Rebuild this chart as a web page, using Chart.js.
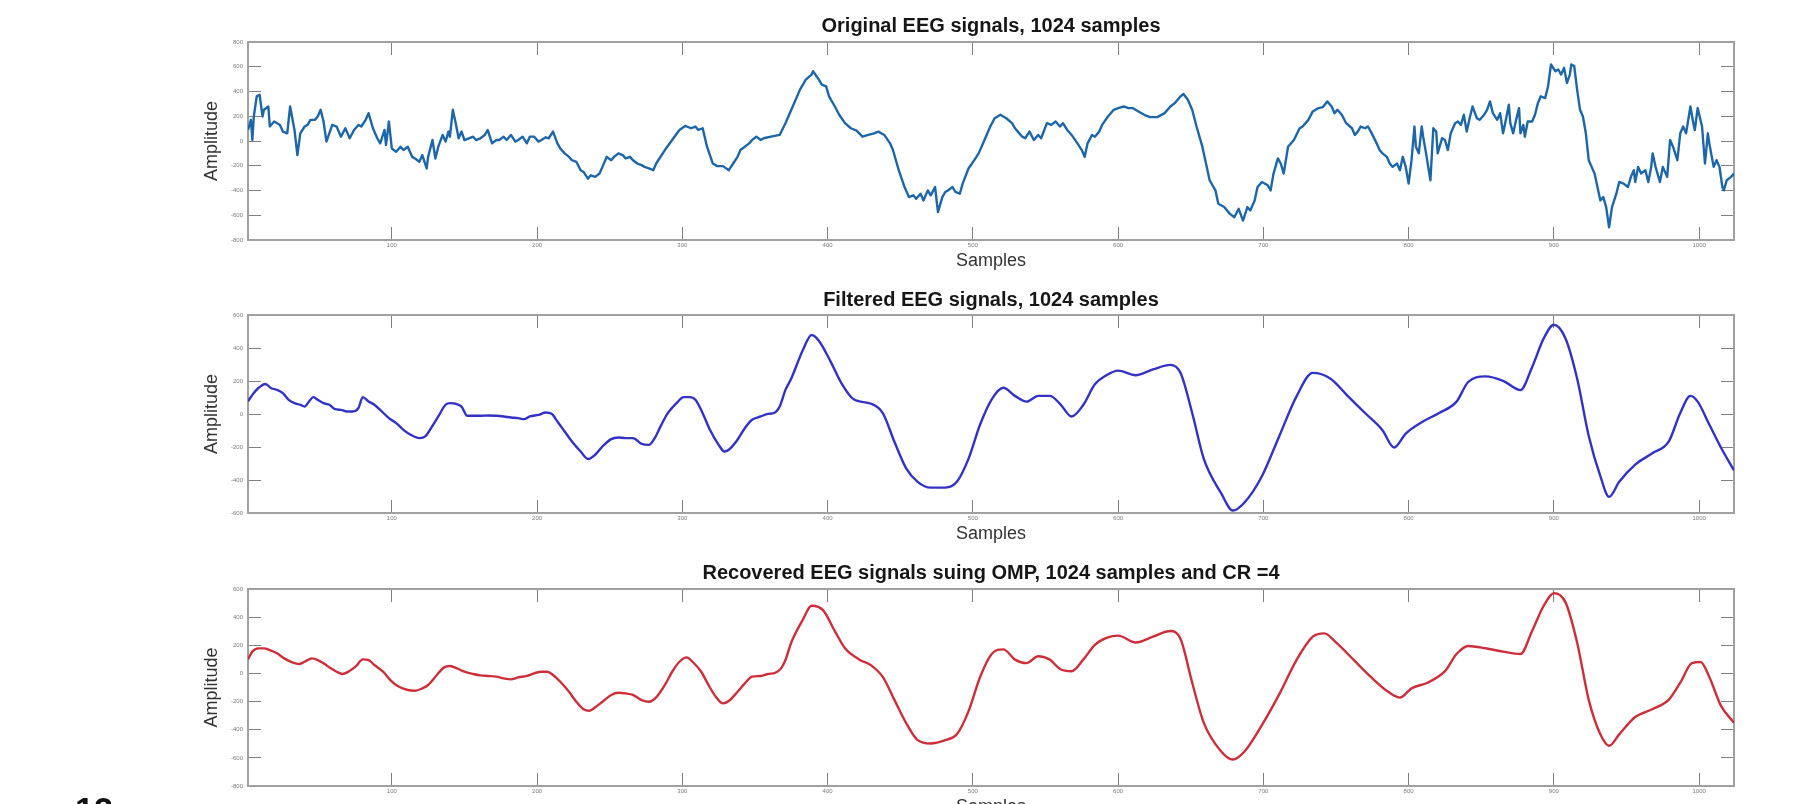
<!DOCTYPE html>
<html>
<head>
<meta charset="utf-8">
<title>EEG signals</title>
<script src="https://cdn.jsdelivr.net/npm/chart.js@4.4.1/dist/chart.umd.min.js"></script>
<style>
  html, body { margin: 0; padding: 0; background: #ffffff; width: 1799px; height: 804px; overflow: hidden; }
  canvas { position: absolute; left: 0; top: 0; }
  #figno { position: absolute; left: 75px; top: 792px; font: bold 34px/34px "Liberation Sans", Arial, sans-serif; color: #111; }
</style>
</head>
<body>
<canvas id="original" width="1799" height="830"></canvas>
<canvas id="filtered" width="1799" height="830"></canvas>
<canvas id="recovered" width="1799" height="830"></canvas>
<div id="figno">12</div>
<script>
// ---- Raw EEG trace (sample index, amplitude) ----
const originalSamples = [
  1,3,4,5,7,9,11,12,15,16, 19,21,23,25,28,30,33,35,37,40, 42,44,47,49,51,53,55,59,62,65,
  68,71,74,77,79,82,84,87,90,92, 95,96,98,100,103,106,108,111,114,116, 119,121,124,125,128,130,132,135,137,139,
  140,142,144,146,148,150,153,156,158,161, 164,166,169,172,174,177,179,182,185,187, 190,193,195,198,201,203,206,208,211,214,
  216,219,222,224,227,230,232,235,237,240, 243,245,248,251,253,256,259,261,264,266, 269,272,274,277,280,282,288,293,298,302,
  306,309,311,314,317,321,324,328,332,335, 338,340,343,346,348,351,354,356,361,367, 371,376,381,385,389,390,394,396,399,401,
  405,408,412,416,420,424,428,432,435,439, 443,445,449,453,456,459,461,464,466,469, 471,474,476,479,481,483,486,488,491,493,
  497,501,504,508,512,515,519,523,527,529, 531,534,536,539,542,545,547,551,554,557, 560,562,565,568,572,575,577,579,582,584,
  587,589,593,597,600,604,607,610,614,618, 622,627,632,636,639,641,643,645,648,651, 654,658,661,663,667,669,673,677,680,683,
  686,689,691,694,696,699,703,705,707,710, 712,714,717,721,725,727,731,734,738,741, 744,747,749,751,754,757,761,763,765,767,
  770,772,774,778,780,782,785,787,789,792, 794,796,798,800,802,804,805,807,809,810, 812,815,817,819,820,823,825,827,829,832,
  834,836,838,840,842,844,847,849,852,854, 856,858,861,863,865,866,869,870,872,874, 876,877,879,880,882,885,887,889,891,894,
  896,898,901,903,905,907,909,911,912,914, 916,918,920,922,924,926,928,930,932,934, 936,938,940,943,945,948,951,953,955,956,
  958,960,963,965,967,968,970,973,975,978, 980,982,985,987,989,991,994,996,997,999, 1002,1004,1006,1007,1010,1012,1014,1016,1017,1019,
  1022,1024
];
const originalAmplitude = [
  89,171,8,198,361,374,198,252,279,117, 157,144,130,76,62,279,89,-114,62,117, 130,171,171,198,252,157,-5,130,117,35,
  103,22,89,130,117,171,225,103,22,-19, 89,-33,157,-60,-87,-46,-73,-46,-128,-141, -168,-114,-222,-128,8,-141,-46,49,-5,76,
  35,252,144,22,76,8,22,35,8,22, 49,89,-19,8,8,35,8,49,-5,8, 35,-19,35,35,-5,8,30,22,76,-19,
  -60,-100,-128,-155,-168,-236,-250,-304,-277,-290, -263,-209,-128,-155,-128,-100,-114,-141,-128,-155, -182,-195,-209,-222,-236,-182,-73,8,89,122,
  103,117,89,103,-46,-182,-203,-203,-236,-182, -128,-73,-46,-19,8,35,8,22,35,49, 144,279,415,496,537,564,496,456,442,361,
  279,212,144,103,84,35,49,62,76,49, -19,-73,-236,-372,-453,-439,-467,-426,-480,-399, -439,-372,-575,-453,-412,-399,-372,-412,-426,-344,
  -222,-155,-100,8,117,184,212,184,144,103, 76,35,22,76,8,49,22,144,130,157, 117,144,89,49,-19,-73,-128,-19,49,35,
  76,130,198,252,266,279,266,266,239,212, 193,193,225,279,306,334,361,380,334,252, 117,-46,-209,-317,-399,-507,-534,-589,-616,-548,
  -643,-534,-561,-480,-372,-331,-358,-399,-263,-141, -182,-263,-46,8,103,117,171,239,266,274, 320,279,225,252,212,144,103,49,76,117,
  103,117,76,-19,-73,-100,-128,-182,-209,-182, -236,-128,-209,-344,-155,117,-46,-100,117,35, -100,-317,103,76,-100,22,8,-73,62,144,
  157,130,212,76,184,279,184,171,212,252, 320,225,171,225,62,117,293,144,62,171, 266,62,130,35,157,157,212,306,361,347,
  442,618,564,578,537,591,469,537,618,605, 415,252,198,62,-155,-209,-263,-372,-480,-453, -534,-697,-534,-426,-331,-344,-372,-290,-236,-331,
  -209,-263,-236,-331,-209,-100,-209,-331,-209,-290, 8,-46,-155,62,117,62,279,144,89,266, 117,-182,62,-19,-209,-155,-209,-372,-399,-317,
  -290,-263
];

// ---- Band-pass filtered trace ----
const filteredSamples = [
  1,4,8,13,17,21,25,29,33,37, 40,43,46,49,53,57,61,65,69,73, 77,80,84,88,92,98,103,108,113,119,
  123,127,132,137,140,144,148,152,156,161, 166,172,177,182,187,191,195,201,206,210, 214,219,224,230,235,240,245,251,256,261,
  266,272,277,281,285,290,296,301,305,309, 314,319,325,329,332,338,343,348,354,359, 363,367,371,375,383,389,394,402,410,418,
  430,438,446,454,462,471,481,489,497,505, 513,521,529,537,545,553,560,568,576,584, 592,600,612,624,636,643,651,659,671,679,
  687,699,711,723,734,746,758,770,782,790, 798,809,821,833,841,853,865,877,885,893, 900,908,916,924,932,938,945,956,968,979,
  987,994,999,1007,1015,1024
];
const filteredAmplitude = [
  76,116,156,182,156,146,126,86,66,56, 45,76,102,86,66,56,29,25,15,15, 35,102,76,56,25,-25,-55,-96,-126,-146,
  -136,-86,-15,56,66,62,45,-11,-11,-11, -9,-11,-15,-21,-25,-31,-15,-5,9,1, -45,-106,-166,-227,-273,-247,-197,-152,-142,-146,
  -146,-181,-187,-146,-75,5,66,102,102,86, 5,-96,-187,-227,-217,-156,-86,-35,-15,1, 5,45,146,215,388,479,444,319,180,89,
  62,6,-168,-328,-411,-446,-446,-411,-272,-64, 89,159,110,75,110,110,62,-15,55,180, 235,263,235,270,298,249,6,-272,-481,-585,
  -536,-377,-133,110,249,215,110,6,-98,-203, -119,-50,6,75,194,228,201,145,284,458, 541,458,215,-133,-377,-502,-411,-307,-237,-168,
  6,110,75,-64,-203,-342
];

// ---- OMP reconstruction (CR = 4) ----
const recoveredSamples = [
  1,4,8,12,16,21,26,32,36,40, 45,49,53,58,62,66,70,75,80,84, 88,94,99,104,111,116,121,125,131,136,
  140,145,150,156,161,166,172,177,182,187, 193,198,203,207,211,216,222,227,232,236, 240,245,251,256,261,266,272,277,282,288,
  293,298,303,307,313,318,323,328,332,338, 343,348,354,359,364,368,371,375,383,389, 397,405,412,422,430,438,446,454,462,471,
  481,489,497,505,513,521,529,537,545,553, 560,568,576,584,592,600,612,624,636,643, 651,659,671,679,687,699,711,723,734,742,
  750,762,774,786,794,802,813,825,833,841, 853,865,877,885,893,900,908,916,924,932, 938,945,956,968,979,987,995,1001,1007,1015,
  1024
];
const recoveredAmplitude = [
  100,155,178,178,166,143,107,76,67,83, 107,95,72,36,12,-4,12,48,100,95, 60,12,-47,-89,-118,-123,-106,-82,-11,43,
  53,36,12,-4,-14,-18,-23,-35,-42,-28, -18,1,12,12,-11,-59,-130,-201,-255,-265, -241,-201,-153,-137,-142,-153,-189,-201,-170,-82,
  12,83,114,83,12,-82,-165,-213,-196,-130, -71,-23,-18,-4,5,36,95,220,383,481, 448,301,179,98,57,-25,-188,-351,-474,-498,
  -474,-433,-270,-25,138,171,98,73,122,98, 32,16,98,203,252,269,220,261,301,244, -66,-351,-555,-612,-555,-367,-147,98,261,285,
  220,98,-25,-131,-172,-106,-66,16,138,195, 179,155,138,301,481,570,505,220,-188,-433, -514,-433,-310,-253,-188,-66,73,81,-25,-229,
  -351
];

// ---- Axis settings ----
const sampleRange = [1, 1024];
const sampleStep = 100;
const amplitudeStep = 200;
const originalRange = [-800, 800];
const filteredRange = [-600, 600];
const recoveredRange = [-800, 600];

const FONT = '"Liberation Sans", Arial, Helvetica, sans-serif';
Chart.defaults.font.family = FONT;

const TICK_COLOR = '#808080';
const BOX_COLOR = '#a0a0a0';
const LABEL_COLOR = '#7a7a7a';

function toPoints(samples, values) {
  return samples.map((s, i) => ({ x: s, y: values[i] }));
}

// Boxed axes with short inward tick marks on all four sides.
function gridStyle() {
  return { drawOnChartArea: false, drawTicks: true, tickLength: -13, color: TICK_COLOR, lineWidth: 1 };
}
function borderStyle() {
  return { display: true, color: BOX_COLOR, width: 2 };
}
const plainNumber = (v) => String(v);

function drawPanel(canvasId, cfg) {
  const ctx = document.getElementById(canvasId).getContext('2d');
  return new Chart(ctx, {
    type: 'line',
    data: {
      datasets: [{
        data: toPoints(cfg.samples, cfg.values),
        borderColor: cfg.color,
        borderWidth: 2.4,
        borderJoinStyle: 'round',
        pointRadius: 0,
        tension: cfg.smooth ? 0.4 : 0,
        cubicInterpolationMode: cfg.smooth ? 'monotone' : 'default',
        fill: false
      }]
    },
    options: {
      responsive: false,
      animation: false,
      events: [],
      layout: { padding: { left: 190, right: 65, top: cfg.padTop, bottom: cfg.padBottom } },
      plugins: {
        legend: { display: false },
        tooltip: { enabled: false },
        title: {
          display: true,
          text: cfg.title,
          fullSize: false,
          color: '#161616',
          font: { size: 20, weight: 'bold', lineHeight: 1 },
          padding: { top: 0, bottom: cfg.titleGap }
        }
      },
      scales: {
        x: {
          type: 'linear', position: 'bottom',
          min: sampleRange[0], max: sampleRange[1],
          afterFit: (s) => { s.height = 30; },
          ticks: { stepSize: sampleStep, includeBounds: false, autoSkip: false, maxRotation: 0,
                   font: { size: 6 }, color: LABEL_COLOR, padding: 15, callback: plainNumber },
          grid: gridStyle(), border: borderStyle(),
          title: { display: true, text: 'Samples', color: '#333', font: { size: 18, lineHeight: 1 }, padding: 0 }
        },
        x2: {
          type: 'linear', position: 'top',
          min: sampleRange[0], max: sampleRange[1],
          afterFit: (s) => { s.height = 0; },
          ticks: { display: false, stepSize: sampleStep, includeBounds: false },
          grid: gridStyle(), border: borderStyle()
        },
        y: {
          type: 'linear', position: 'left',
          min: cfg.range[0], max: cfg.range[1],
          afterFit: (s) => { s.width = 58; },
          ticks: { stepSize: amplitudeStep, font: { size: 6 }, color: LABEL_COLOR, padding: 18, callback: plainNumber },
          grid: gridStyle(), border: borderStyle(),
          title: { display: true, text: 'Amplitude', color: '#333', font: { size: 18, lineHeight: 1 },
                   padding: { top: 13, bottom: 0 } }
        },
        y2: {
          type: 'linear', position: 'right',
          min: cfg.range[0], max: cfg.range[1],
          afterFit: (s) => { s.width = 0; },
          ticks: { display: false, stepSize: amplitudeStep },
          grid: gridStyle(), border: borderStyle()
        }
      }
    }
  });
}

drawPanel('original', {
  title: 'Original EEG signals, 1024 samples',
  samples: originalSamples, values: originalAmplitude, range: originalRange,
  color: '#1d66a8', padTop: 16, titleGap: 6, padBottom: 560, smooth: false
});
drawPanel('filtered', {
  title: 'Filtered EEG signals, 1024 samples',
  samples: filteredSamples, values: filteredAmplitude, range: filteredRange,
  color: '#3232c4', padTop: 290, titleGap: 5, padBottom: 287, smooth: true
});
drawPanel('recovered', {
  title: 'Recovered EEG signals suing OMP, 1024 samples and CR =4',
  samples: recoveredSamples, values: recoveredAmplitude, range: recoveredRange,
  color: '#cc2f3a', padTop: 563, titleGap: 6, padBottom: 14, smooth: true
});
</script>
</body>
</html>
